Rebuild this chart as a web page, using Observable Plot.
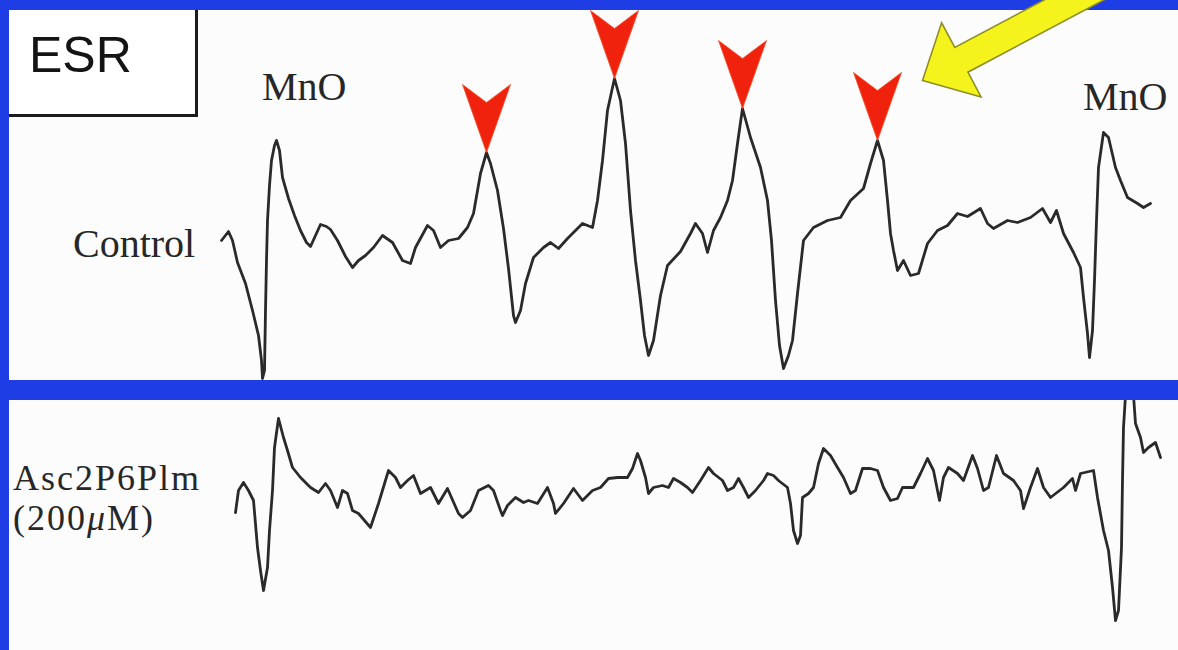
<!DOCTYPE html>
<html><head><meta charset="utf-8">
<script src="https://cdn.jsdelivr.net/npm/d3@7"></script>
<script src="https://cdn.jsdelivr.net/npm/@observablehq/plot@0.6"></script>
<style>
html,body{margin:0;padding:0;}
body{width:1178px;height:650px;overflow:hidden;background:#1f3de4;position:relative;}
.panel{position:absolute;left:9px;width:1169px;background:#fcfcfc;}
#top{top:10px;height:370px;}
#bottom{top:400px;height:250px;}
.panel svg{overflow:visible;display:block;}
.lbl{position:absolute;font-family:"Liberation Serif",serif;font-size:40px;line-height:40px;color:#272727;white-space:nowrap;}
.lbl.small{font-size:36px;line-height:36px;letter-spacing:2px;}
#esr{position:absolute;left:9px;top:10px;width:186px;height:104px;border-right:3px solid #1b1b1b;border-bottom:3px solid #1b1b1b;background:#fff;}
#esr span{position:absolute;left:20px;top:19.7px;font-family:"Liberation Sans",Arial,sans-serif;font-size:50px;line-height:50px;color:#141414;}
</style></head>
<body>
<div id="top" class="panel"></div>
<div id="bottom" class="panel"></div>
<div id="esr"><span>ESR</span></div>
<div class="lbl" style="left:262px;top:66.5px">MnO</div>
<div class="lbl" style="left:1083px;top:76.5px">MnO</div>
<div class="lbl" style="left:73px;top:223.5px">Control</div>
<div class="lbl small" style="left:13px;top:460px">Asc2P6Plm</div>
<div class="lbl small" style="left:13px;top:500px">(200<i>μ</i>M)</div>
<script>
// Control spectrum: field position (arbitrary units) and signal (arbitrary units)
const controlField = [221,228,232,237,245,252,258,261,262,264,265,266,267,269,271,274,276,279,282,288,294,300,306,310,315,320,326,330,337,345,352,358,365,373,382,392,402,410,415,427,433,440,448,458,467,473,480,486,490,497,503,508,513,515,520,525,533,543,550,558,567,575,582,592,597,602,607,612,614,620,625,630,635,640,644,648,653,660,667,680,690,695,702,707,713,720,727,732,737,742,750,760,767,771,775,779,783,788,792,797,803,813,827,840,850,863,870,877,883,887,890,893,897,903,910,918,927,937,947,957,967,980,987,993,1007,1017,1030,1042,1050,1056,1063,1073,1080,1083,1087,1089,1092,1094,1096,1098,1103,1108,1115,1120,1127,1137,1143,1150];
const controlSignal = [10,19,10,-12,-33,-60,-85,-110,-128,-120,-60,-10,30,65,90,105,110,100,73,52,35,20,8,4,15,26,24,21,10,-6,-17,-10,-5,3,15,8,-10,-13,3,25,20,3,10,12,23,37,77,98,87,60,22,-18,-65,-72,-60,-33,-7,3,8,2,12,20,27,23,50,90,140,163,172,150,107,40,-10,-50,-85,-105,-90,-45,-15,-1,17,27,17,-2,20,33,50,70,107,142,113,83,50,10,-50,-95,-118,-105,-90,-43,10,23,30,33,50,62,87,110,90,50,17,0,-20,-10,-25,-23,7,20,25,37,34,42,27,22,30,28,33,42,28,40,17,-2,-17,-47,-83,-107,-80,-30,30,83,118,113,83,70,53,47,43,47];

// Asc2P6Plm (200 µM) spectrum
const ascField = [235,238,243,248,253,257,260,263,267,269,272,274,278,283,287,292,300,310,318,325,330,337,342,347,352,358,370,378,388,395,400,407,413,420,430,438,447,458,462,470,478,488,493,500,502,507,515,523,528,537,547,553,555,563,573,582,592,600,608,617,627,632,637,640,645,648,653,662,668,673,680,687,692,700,708,713,722,727,733,738,743,748,755,763,767,773,778,787,790,793,797,800,802,808,813,818,823,830,837,843,850,855,862,870,877,883,890,897,902,913,920,927,933,939,943,948,957,963,972,977,983,988,996,1003,1013,1020,1023,1030,1037,1043,1050,1063,1072,1075,1080,1093,1097,1103,1108,1112,1115,1118,1121,1122,1123,1125,1133,1135,1140,1143,1148,1155,1160];
const ascSignal = [-12,10,18,10,0,-47,-70,-90,-67,-30,10,53,82,63,50,33,23,13,8,17,10,-7,10,7,-10,-13,-27,-3,30,23,13,20,25,7,13,-3,12,-13,-17,-10,10,15,10,-10,-15,-5,3,-2,0,-3,13,-3,-13,-3,12,0,10,13,22,23,23,32,47,40,23,7,13,15,13,22,18,13,8,20,33,27,20,10,13,22,13,3,10,20,27,25,20,13,-3,-30,-43,-35,3,7,13,37,52,45,33,23,7,10,32,32,30,13,0,2,13,13,27,42,30,0,23,33,27,20,45,32,10,13,45,27,20,10,-8,13,32,13,3,13,22,10,27,30,3,-30,-50,-87,-120,-110,-47,20,73,105,105,77,63,48,53,58,43];

// marked peaks (red arrowheads) and the highlighted peak (yellow arrow)
const peakField = [486,614,742,877];
const peakSignal = [98,172,142,110];
const calloutField = [922];
const calloutSignal = [170];

const control = controlField.map((x,i)=>({x, y: controlSignal[i]}));
const asc = ascField.map((x,i)=>({x, y: ascSignal[i]}));
const peaks = peakField.map((x,i)=>({x, y: peakSignal[i]}));
const callout = calloutField.map((x,i)=>({x, y: calloutSignal[i]}));

const arrowHead = {
  draw(ctx){ ctx.moveTo(0,0); ctx.lineTo(-24,-68); ctx.lineTo(0,-50); ctx.lineTo(24,-68); ctx.closePath(); }
};
const yellowArrow = {
  draw(ctx){
    const a = -28*Math.PI/180, ux=Math.cos(a), uy=Math.sin(a), nx=-uy, ny=ux;
    const L=44, W=42, w=14, T=240;
    const P=(s,t)=>[s*ux+t*nx, s*uy+t*ny];
    const pts=[P(0,0),P(L,W),P(L,w),P(T,w),P(T,-w),P(L,-w),P(L,-W)];
    ctx.moveTo(...pts[0]); for(let k=1;k<pts.length;k++) ctx.lineTo(...pts[k]); ctx.closePath();
  }
};

const topPlot = Plot.plot({
  width:1169, height:370, margin:0,
  x:{domain:[9,1178], axis:null},
  y:{domain:[-130,240], axis:null},
  style:{background:"transparent", overflow:"visible"},
  marks:[
    Plot.line(control,{x:"x",y:"y",stroke:"#2a2a2a",strokeWidth:2.8,strokeLinejoin:"round",strokeLinecap:"round",clip:true}),
    Plot.dot(peaks,{x:"x",y:"y",symbol:arrowHead,r:24,fill:"#f0220e",stroke:"#f2502a",strokeWidth:0.8}),
    Plot.dot(callout,{x:"x",y:"y",symbol:yellowArrow,r:20,fill:"#f4f41c",stroke:"#8e8e2a",strokeWidth:1.6})
  ]
});
document.getElementById("top").appendChild(topPlot);

const bottomPlot = Plot.plot({
  width:1169, height:250, margin:0,
  x:{domain:[9,1178], axis:null},
  y:{domain:[-150,100], axis:null},
  style:{background:"transparent"},
  marks:[
    Plot.line(asc,{x:"x",y:"y",stroke:"#2a2a2a",strokeWidth:2.8,strokeLinejoin:"round",strokeLinecap:"round",clip:true})
  ]
});
document.getElementById("bottom").appendChild(bottomPlot);
</script>
</body></html>
